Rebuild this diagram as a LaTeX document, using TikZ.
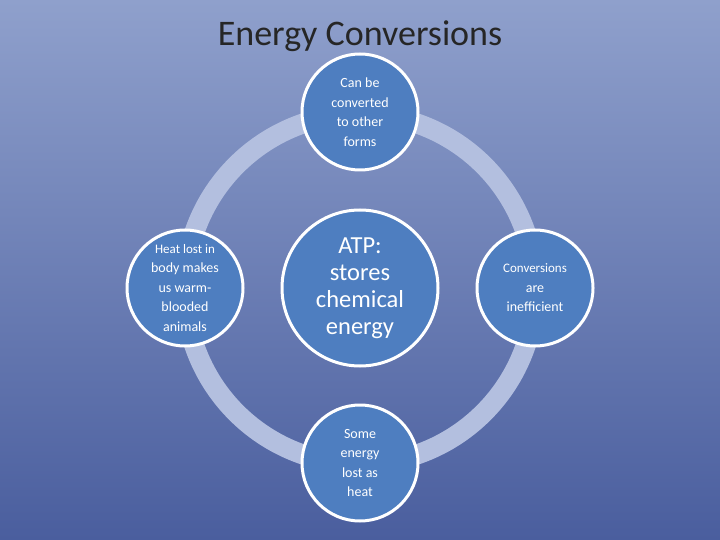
\documentclass[tikz,border=0pt]{standalone}
\usepackage{fontspec}
\setmainfont{Carlito}
\definecolor{bgtop}{HTML}{8FA0CC}
\definecolor{bgbot}{HTML}{4A5E9E}
\definecolor{ringc}{HTML}{B3BFDF}
\definecolor{ballc}{HTML}{4E7EC0}
\tikzset{ball/.style={draw=white,line width=3pt,fill=ballc,shape=circle,minimum size=116pt,inner sep=0pt,align=center,text=white,font=\fontsize{14}{19.5}\selectfont}}
\begin{document}
\begin{tikzpicture}[x=1pt,y=-1pt]
\shade[top color=bgtop,bottom color=bgbot] (0,0) rectangle (720,540);
\useasboundingbox (0,0) rectangle (720,540);
\node[text=black!85] (title) at (360,36) {\fontsize{36}{40}\selectfont Energy Conversions};
\draw[ringc,line width=20pt] (360,289) circle (175);
\node[ball] (top) at (360,112) {Can be\\converted\\to other\\forms};
\node[ball] (left) at (185,288) {\fontsize{13}{17}\selectfont Heat lost in\\body makes\\us warm-\\blooded\\animals};
\node[ball] (right) at (535,288) {\fontsize{13}{17}\selectfont Conversions\\are\\inefficient};
\node[ball] (bottom) at (360,463) {Some\\energy\\lost as\\heat};
\node[ball,minimum size=156pt,font=\fontsize{24.5}{27}\selectfont] (atp) at (360,288) {ATP:\\stores\\chemical\\energy};
\end{tikzpicture}
\end{document}
